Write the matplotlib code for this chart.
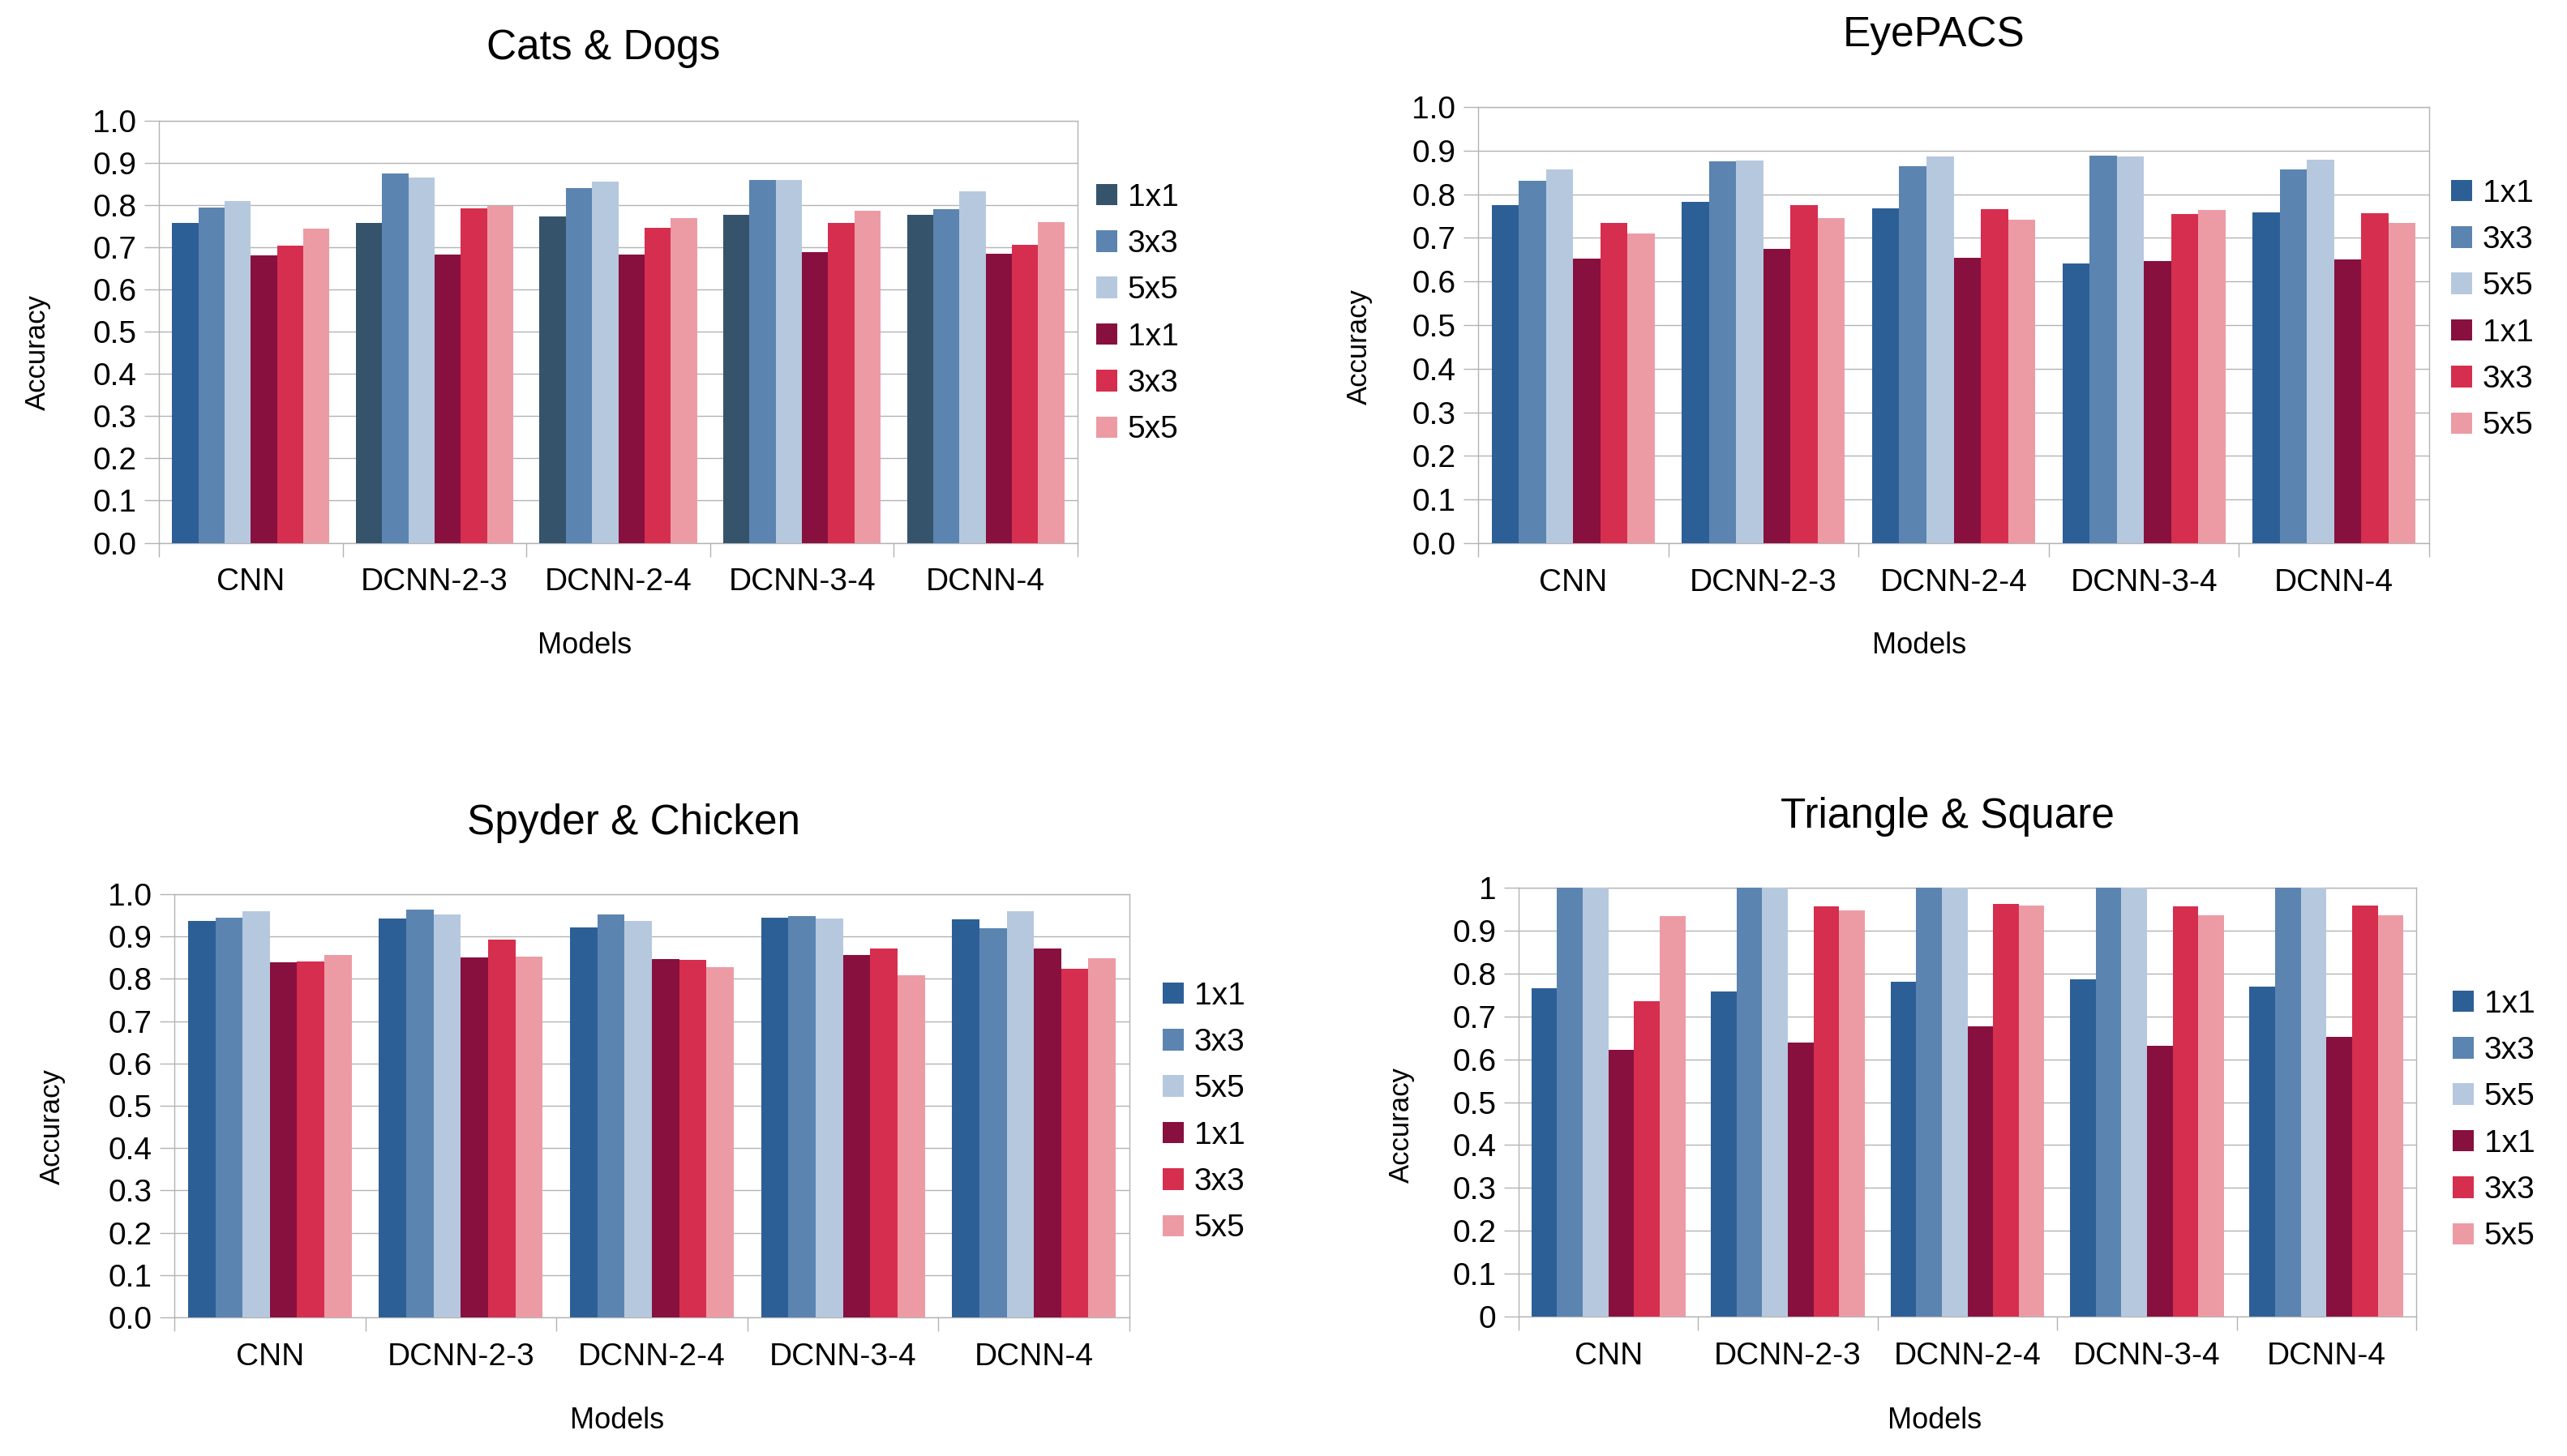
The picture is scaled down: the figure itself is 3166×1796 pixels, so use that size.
import matplotlib
matplotlib.use("Agg")
import matplotlib.pyplot as plt
from matplotlib.patches import Patch
from matplotlib.ticker import FixedLocator, FixedFormatter

plt.rcParams["font.family"] = ["Liberation Sans", "DejaVu Sans"]

W, H = 3166, 1796

models = ["CNN", "DCNN-2-3", "DCNN-2-4", "DCNN-3-4", "DCNN-4"]
kernels = ["1x1", "3x3", "5x5", "1x1", "3x3", "5x5"]

# rows = series (blue 1x1, 3x3, 5x5, red 1x1, 3x3, 5x5), columns = models
cats_dogs = [
    [0.757, 0.758, 0.773, 0.776, 0.776],
    [0.794, 0.874, 0.840, 0.859, 0.789],
    [0.809, 0.864, 0.856, 0.859, 0.833],
    [0.680, 0.683, 0.683, 0.688, 0.685],
    [0.703, 0.791, 0.745, 0.757, 0.706],
    [0.743, 0.798, 0.768, 0.786, 0.760],
]
eyepacs = [
    [0.775, 0.782, 0.767, 0.642, 0.758],
    [0.831, 0.875, 0.865, 0.889, 0.857],
    [0.857, 0.878, 0.887, 0.887, 0.880],
    [0.652, 0.674, 0.655, 0.647, 0.650],
    [0.734, 0.775, 0.765, 0.755, 0.757],
    [0.710, 0.745, 0.742, 0.764, 0.734],
]
spyder_chicken = [
    [0.936, 0.942, 0.922, 0.944, 0.940],
    [0.944, 0.963, 0.953, 0.949, 0.919],
    [0.959, 0.953, 0.936, 0.942, 0.959],
    [0.839, 0.851, 0.847, 0.857, 0.872],
    [0.841, 0.893, 0.845, 0.872, 0.824],
    [0.857, 0.853, 0.827, 0.809, 0.849],
]
triangle_square = [
    [0.765, 0.758, 0.781, 0.787, 0.769],
    [1.000, 1.000, 1.000, 1.000, 1.000],
    [1.000, 1.000, 1.000, 1.000, 1.000],
    [0.621, 0.638, 0.676, 0.631, 0.653],
    [0.736, 0.956, 0.963, 0.956, 0.959],
    [0.934, 0.948, 0.959, 0.936, 0.936],
]

yticks = [0.0, 0.1, 0.2, 0.3, 0.4, 0.5, 0.6, 0.7, 0.8, 0.9, 1.0]
ytick_labels = ["0.0", "0.1", "0.2", "0.3", "0.4", "0.5", "0.6", "0.7", "0.8", "0.9", "1.0"]
ytick_labels_short = ["0", "0.1", "0.2", "0.3", "0.4", "0.5", "0.6", "0.7", "0.8", "0.9", "1"]

colors = ["#2d5f97", "#5b84b0", "#b6c8de", "#87103f", "#d62e4f", "#ec9ba5"]
slate = "#35536b"
grid_c = "#b3b3b3"

# name, data, axes box (left, top, right, bottom px), title xy, models xy, accuracy xy,
# legend (left px, center px), tick labels, slate 1x1 for groups after the first
panels = [
    ("Cats & Dogs", cats_dogs, (196, 148.5, 1329, 669.5), (744, 60), (721, 797), (46, 435),
     (1352, 387), ytick_labels, True),
    ("EyePACS", eyepacs, (1823, 132, 2996, 670), (2385, 43), (2367, 797), (1676, 428),
     (3023, 382), ytick_labels, False),
    ("Spyder & Chicken", spyder_chicken, (215, 1103, 1393, 1625), (782, 1015), (761, 1753), (64, 1390),
     (1434, 1372), ytick_labels, False),
    ("Triangle & Square", triangle_square, (1873, 1095, 2980, 1624), (2402, 1008), (2386, 1753), (1728, 1388),
     (3025, 1382), ytick_labels_short, False),
]

fig = plt.figure(figsize=(W / 100, H / 100), dpi=100)

bar_w = 0.1428
for title, data, box, tpos, mpos, apos, lpos, ylabels, slate_rest in panels:
    l, t, r, b = box
    ax = fig.add_axes([l / W, 1 - b / H, (r - l) / W, (b - t) / H])
    for j, series in enumerate(data):
        xs = [i + 0.5 + (j - 2.5) * bar_w for i in range(len(models))]
        cols = [colors[j]] * len(models)
        if j == 0 and slate_rest:
            cols = [colors[0]] + [slate] * (len(models) - 1)
        ax.bar(xs, series, width=bar_w, color=cols, linewidth=0, zorder=3)

    ax.set_xlim(0, len(models))
    ax.set_ylim(0, 1.0)
    ax.yaxis.set_major_locator(FixedLocator(yticks))
    ax.yaxis.set_major_formatter(FixedFormatter(ylabels))
    ax.xaxis.set_major_locator(FixedLocator(list(range(len(models) + 1))))
    ax.xaxis.set_major_formatter(FixedFormatter([""] * (len(models) + 1)))
    ax.xaxis.set_minor_locator(FixedLocator([i + 0.5 for i in range(len(models))]))
    ax.xaxis.set_minor_formatter(FixedFormatter(models))
    ax.tick_params(axis="x", which="major", length=12, width=1.0, color=grid_c, direction="out")
    ax.tick_params(axis="x", which="minor", length=0, pad=22, labelsize=28)
    ax.tick_params(axis="y", which="major", length=13, width=1.0, color=grid_c, direction="out",
                   pad=7, labelsize=28)
    ax.grid(axis="y", color=grid_c, linewidth=1.0, zorder=0)
    for s in ax.spines.values():
        s.set_color(grid_c)
        s.set_linewidth(1.0)

    fig.text(tpos[0] / W, 1 - tpos[1] / H, title, fontsize=37, ha="center", va="center")
    fig.text(mpos[0] / W, 1 - mpos[1] / H, "Models", fontsize=26, ha="center", va="center")
    fig.text(apos[0] / W, 1 - apos[1] / H, "Accuracy", fontsize=25, ha="center", va="center",
             rotation=90)

    leg_cols = list(colors)
    if slate_rest:
        leg_cols[0] = slate
    handles = [Patch(facecolor=c, edgecolor="none", label=k) for c, k in zip(leg_cols, kernels)]
    fig.legend(handles=handles, loc="center left",
               bbox_to_anchor=(lpos[0] / W, 1 - lpos[1] / H),
               frameon=False, fontsize=28, borderpad=0, borderaxespad=0,
               handlelength=0.67, handleheight=0.67, handletextpad=0.33, labelspacing=0.55)

fig.savefig("out.png", dpi=100, facecolor="white")
